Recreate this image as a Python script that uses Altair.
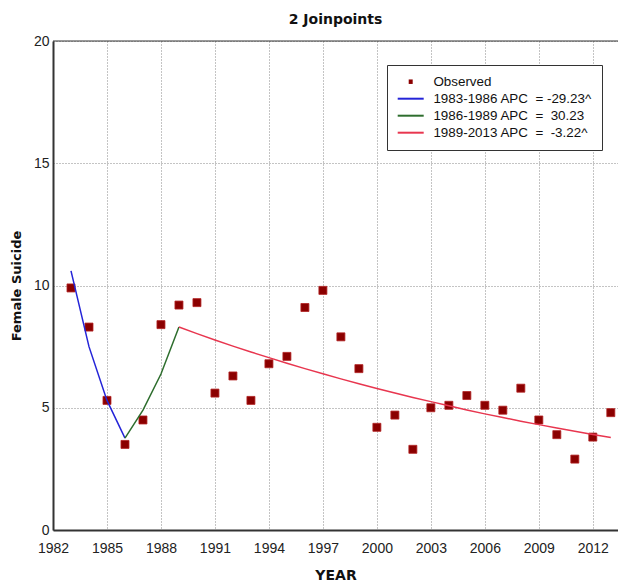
import altair as alt
import pandas as pd

years = list(range(1983, 2014))
observed = [9.9, 8.3, 5.3, 3.5, 4.5, 8.4, 9.2, 9.3, 5.6, 6.3, 5.3, 6.8, 7.1, 9.1, 9.8,
            7.9, 6.6, 4.2, 4.7, 3.3, 5.0, 5.1, 5.5, 5.1, 4.9, 5.8, 4.5, 3.9, 2.9, 3.8, 4.8]
seg1_years = [1983, 1984, 1985, 1986]
seg1_vals = [10.6, 7.5, 5.3, 3.76]
seg2_years = [1986, 1987, 1988, 1989]
seg2_vals = [3.76, 4.9, 6.38, 8.3]
seg3_years = list(range(1989, 2014))
seg3_vals = [8.30, 8.03, 7.77, 7.52, 7.28, 7.05, 6.82, 6.60, 6.39, 6.18, 5.98, 5.79, 5.60,
             5.42, 5.25, 5.08, 4.91, 4.75, 4.60, 4.45, 4.31, 4.17, 4.04, 3.91, 3.78]

NB = "\u00a0"
series_names = [
    "Observed",
    "1983-1986 APC " + NB + "= -29.23^",
    "1986-1989 APC " + NB + "= " + NB + "30.23",
    "1989-2013 APC " + NB + "= " + NB + "-3.22^",
]
series_colors = ["#8b0000", "#2424d8", "#2e6e2e", "#e8364f"]
legend_shapes = ["M1.2,-0.25H1.6V0.25H1.2Z", "M-1.2,0H4", "M-1.2,0H4", "M-1.2,0H4"]

x_ticks = [1982, 1985, 1988, 1991, 1994, 1997, 2000, 2003, 2006, 2009, 2012]
y_ticks = [0, 5, 10, 15, 20]
y_max = [20]

obs_df = pd.DataFrame({"year": years, "value": observed, "series": series_names[0]})
fit_df = pd.concat([
    pd.DataFrame({"year": seg1_years, "value": seg1_vals, "series": series_names[1]}),
    pd.DataFrame({"year": seg2_years, "value": seg2_vals, "series": series_names[2]}),
    pd.DataFrame({"year": seg3_years, "value": seg3_vals, "series": series_names[3]}),
])
legend_df = pd.DataFrame({"series": series_names, "year": [1982.0] * 4, "value": [30.0] * 4})
top_df = pd.DataFrame({"top": y_max})

LABEL_FONT = "Liberation Sans"
TITLE_FONT = "DejaVu Sans"

x_enc = alt.X(
    "year:Q",
    scale=alt.Scale(domain=[1982, 2013.4], nice=False, zero=False),
    axis=alt.Axis(
        values=x_ticks, format="d", title="YEAR", grid=True, ticks=False,
        labelFlush=False, labelPadding=11, labelFontSize=14, labelFont=LABEL_FONT,
        labelColor="#222", titleFont=TITLE_FONT, titleFontSize=14, titleFontWeight="bold",
        titleColor="#111", titlePadding=13, domainColor="#333", domainWidth=2,
        gridColor="#888", gridDash=[1, 2], gridWidth=1,
    ),
)
y_enc = alt.Y(
    "value:Q",
    scale=alt.Scale(domain=[0, 20], nice=False),
    axis=alt.Axis(
        values=y_ticks, title="Female Suicide", grid=True, ticks=False,
        labelFlush=False, labelPadding=4, labelFontSize=14, labelFont=LABEL_FONT,
        labelColor="#222", titleFont=TITLE_FONT, titleFontSize=13, titleFontWeight="bold",
        titleColor="#111", titlePadding=10, domainColor="#333", domainWidth=2,
        gridColor="#888", gridDash=[1, 2], gridWidth=1,
    ),
)

# Observed squares (constant colour, no legend of their own)
points = alt.Chart(obs_df).mark_square(
    size=64, opacity=1, color=series_colors[0], stroke="#b22222", strokeWidth=0.8
).encode(x=x_enc, y=y_enc)

# Fitted segments: colour scale over the three segment names only
lines = alt.Chart(fit_df).mark_line(strokeWidth=1.5).encode(
    x="year:Q", y="value:Q",
    color=alt.Color("series:N",
                    scale=alt.Scale(domain=series_names[1:], range=series_colors[1:]),
                    legend=None),
)

top_rule = alt.Chart(top_df).mark_rule(color="#333", strokeWidth=1).encode(y="top:Q")


def make_legend():
    return alt.Legend(
        title=None, orient="none", legendX=334, legendY=24,
        fillColor="white", strokeColor="#333", padding=10,
        labelFont=LABEL_FONT, labelFontSize=13.4, labelColor="#111", labelLimit=400,
        symbolSize=100, symbolStrokeWidth=2, symbolOpacity=1,
        rowPadding=2, labelOffset=23,
    )


# Legend carrier layer (its point lies outside the domain and is clipped)
legend_layer = alt.Chart(legend_df).mark_point(
    filled=False, size=100, strokeWidth=2, opacity=1, clip=True
).encode(
    x="year:Q", y="value:Q",
    stroke=alt.Stroke("series:N", scale=alt.Scale(domain=series_names, range=series_colors),
                      legend=make_legend()),
    shape=alt.Shape("series:N", scale=alt.Scale(domain=series_names, range=legend_shapes),
                    legend=make_legend()),
)

chart = alt.layer(points, lines, top_rule, legend_layer).properties(
    width=565, height=489,
    autosize="none",
    padding={"left": 45, "top": 33, "right": 0, "bottom": 55},
    title=alt.Title("2 Joinpoints", font=TITLE_FONT, fontSize=14, fontWeight="bold",
                    color="#111", offset=7, anchor="middle"),
).configure_view(stroke=None)

chart.save("out.html", embed_options={"renderer": "svg", "actions": False})
